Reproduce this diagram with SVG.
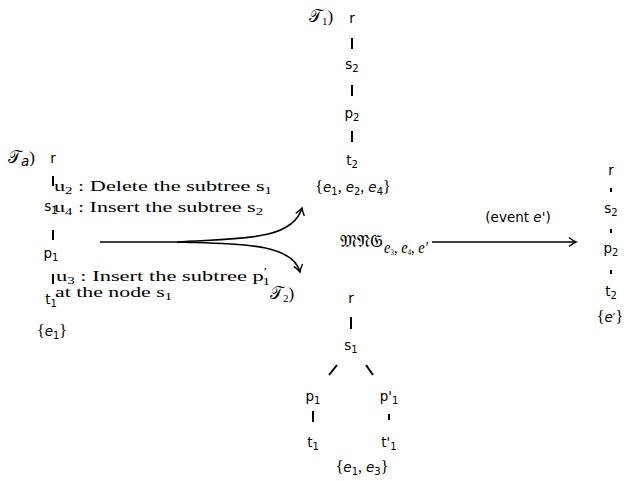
<svg xmlns="http://www.w3.org/2000/svg" width="629" height="481" viewBox="0 0 629 481">
<defs>
<style>
.n{font-family:"DejaVu Sans",sans-serif;font-size:13.5px;fill:#000;text-anchor:middle}
.sub{font-size:10px}
.m{font-family:"Liberation Serif",serif;font-size:17px;fill:#000}
.a{font-family:"Liberation Serif",serif;font-size:15px;fill:#000}
.br{font-family:"Liberation Serif",serif;font-size:16px;fill:#000;text-anchor:middle}
.e{font-family:"DejaVu Sans",sans-serif;font-style:italic;font-size:13.5px}
.bar{stroke:#000;stroke-width:2;fill:none}
.dot{stroke:#000;stroke-width:2;fill:none}
.arr{stroke:#000;stroke-width:1.6;fill:none}
</style>
<marker id="ah" markerWidth="12" markerHeight="12" refX="0" refY="0" viewBox="-8 -6 10 12" orient="auto" markerUnits="userSpaceOnUse">
<path d="M-7,-4.5 Q-2.5,-1 0,0 Q-2.5,1 -7,4.5" stroke="#000" stroke-width="1.4" fill="none"/>
</marker>
</defs>

<g id="tree-a">
<text class="m" x="8" y="163">𝒯<tspan class="e" font-size="11" dy="3">a</tspan><tspan dy="-3">)</tspan></text>
<text class="n" x="53" y="163">r</text>
<text class="n" x="51" y="211">s<tspan class="sub" dy="3">1</tspan></text>
<text class="n" x="51" y="258">p<tspan class="sub" dy="3">1</tspan></text>
<text class="n" x="51" y="304">t<tspan class="sub" dy="3">1</tspan></text>
<text class="br" x="52" y="336">{<tspan class="e">e</tspan><tspan class="sub" font-family="DejaVu Sans" dy="3">1</tspan><tspan dy="-3">}</tspan></text>
</g>

<g id="annotations">
<text class="a" x="54" y="191" textLength="218" lengthAdjust="spacingAndGlyphs">u<tspan font-size="10" dy="3">2</tspan><tspan dy="-3"> : Delete the subtree s</tspan><tspan font-size="10" dy="3">1</tspan></text>
<text class="a" x="54" y="212" textLength="209" lengthAdjust="spacingAndGlyphs">u<tspan font-size="10" dy="3">4</tspan><tspan dy="-3"> : Insert the subtree s</tspan><tspan font-size="10" dy="3">2</tspan></text>
<text class="a" x="56" y="281" textLength="214" lengthAdjust="spacingAndGlyphs">u<tspan font-size="10" dy="3">3</tspan><tspan dy="-3"> : Insert the subtree p</tspan><tspan font-size="10" dy="-6">′</tspan><tspan font-size="10" dx="-3" dy="10">1</tspan></text>
<text class="a" x="55" y="297" textLength="117" lengthAdjust="spacingAndGlyphs">at the node s<tspan font-size="10" dy="3">1</tspan></text>
</g>

<g id="tree-1">
<text class="m" x="309" y="22">𝒯<tspan font-size="11" dy="3">1</tspan><tspan dy="-3">)</tspan></text>
<text class="n" x="352" y="23">r</text>
<text class="n" x="352" y="69">s<tspan class="sub" dy="3">2</tspan></text>
<text class="n" x="352" y="118">p<tspan class="sub" dy="3">2</tspan></text>
<text class="n" x="352" y="165">t<tspan class="sub" dy="3">2</tspan></text>
<text class="br" x="353" y="192">{<tspan class="e">e</tspan><tspan class="sub" font-family="DejaVu Sans" dy="3">1</tspan><tspan dy="-3">, </tspan><tspan class="e">e</tspan><tspan class="sub" font-family="DejaVu Sans" dy="3">2</tspan><tspan dy="-3">, </tspan><tspan class="e">e</tspan><tspan class="sub" font-family="DejaVu Sans" dy="3">4</tspan><tspan dy="-3">}</tspan></text>
</g>

<g id="tree-2">
<text class="m" x="270" y="299">𝒯<tspan font-size="11" dy="3">2</tspan><tspan dy="-3">)</tspan></text>
<text class="n" x="351" y="303">r</text>
<text class="n" x="351" y="350">s<tspan class="sub" dy="3">1</tspan></text>
<text class="n" x="313" y="401">p<tspan class="sub" dy="3">1</tspan></text>
<text class="n" x="389" y="401">p'<tspan class="sub" dy="3">1</tspan></text>
<text class="n" x="313" y="447">t<tspan class="sub" dy="3">1</tspan></text>
<text class="n" x="389" y="447">t'<tspan class="sub" dy="3">1</tspan></text>
<text class="br" x="362" y="472">{<tspan class="e">e</tspan><tspan class="sub" font-family="DejaVu Sans" dy="3">1</tspan><tspan dy="-3">, </tspan><tspan class="e">e</tspan><tspan class="sub" font-family="DejaVu Sans" dy="3">3</tspan><tspan dy="-3">}</tspan></text>
</g>

<g id="merge">
<text class="m" x="340" y="247" textLength="43" lengthAdjust="spacingAndGlyphs">𝔐𝔑𝔊</text>
<text class="m" x="384" y="253" font-size="11" textLength="44" lengthAdjust="spacingAndGlyphs"><tspan font-style="italic">e</tspan><tspan font-size="8" dy="2">3</tspan><tspan dy="-2">, </tspan><tspan font-style="italic">e</tspan><tspan font-size="8" dy="2">4</tspan><tspan dy="-2">, </tspan><tspan font-style="italic">e′</tspan></text>
<text class="n" x="518" y="222">(event <tspan class="e">e</tspan>')</text>
</g>

<g id="tree-result">
<text class="n" x="611" y="175">r</text>
<text class="n" x="611" y="213">s<tspan class="sub" dy="3">2</tspan></text>
<text class="n" x="611" y="253">p<tspan class="sub" dy="3">2</tspan></text>
<text class="n" x="611" y="296">t<tspan class="sub" dy="3">2</tspan></text>
<text class="br" x="610" y="322">{<tspan class="e">e</tspan><tspan font-family="DejaVu Sans" font-size="12">′</tspan>}</text>
</g>

<g id="connectors">
<line class="bar" x1="53" y1="176" x2="53" y2="186"/>
<line class="bar" x1="53" y1="230" x2="53" y2="240"/>
<line class="bar" x1="53" y1="274" x2="53" y2="284"/>
<line class="bar" x1="352" y1="38" x2="352" y2="49"/>
<line class="bar" x1="352" y1="85" x2="352" y2="96"/>
<line class="bar" x1="352" y1="131" x2="352" y2="142"/>
<line class="bar" x1="351" y1="317" x2="351" y2="329"/>
<line class="bar" x1="337" y1="365" x2="329" y2="375"/>
<line class="bar" x1="366" y1="365" x2="373" y2="375"/>
<line class="bar" x1="313" y1="411" x2="313" y2="422"/>
<line class="bar" x1="389" y1="414" x2="389" y2="420"/>
<line class="dot" x1="611" y1="188" x2="611" y2="192"/>
<line class="dot" x1="611" y1="229" x2="611" y2="233"/>
<line class="dot" x1="611" y1="270" x2="611" y2="274"/>
<path class="arr" d="M100,242 L177,242"/>
<path class="arr" d="M177,242 C235,238 292,242 302,208" marker-end="url(#ah)"/>
<path class="arr" d="M177,242 C235,244 292,242 300,272" marker-end="url(#ah)"/>
<path class="arr" d="M432,242 L576,242" marker-end="url(#ah)"/>
</g>
</svg>
